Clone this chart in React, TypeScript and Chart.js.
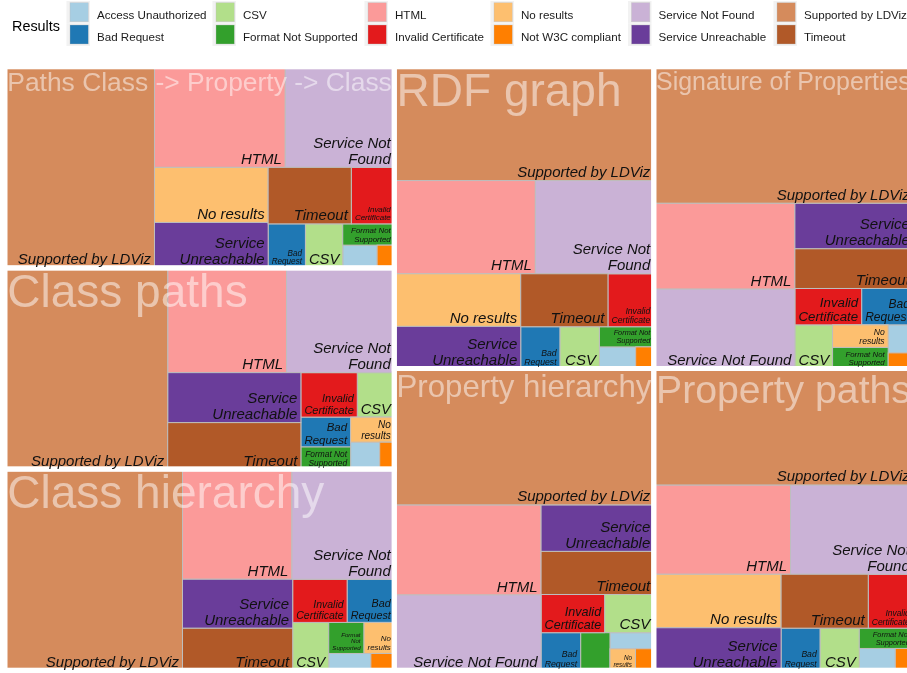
import React, { useEffect, useRef } from "react";
import { Chart, registerables } from "chart.js";

Chart.register(...registerables);

// ---------------- data ----------------
const RESULTS = [
  "Access Unauthorized",
  "Bad Request",
  "CSV",
  "Format Not Supported",
  "HTML",
  "Invalid Certificate",
  "No results",
  "Not W3C compliant",
  "Service Not Found",
  "Service Unreachable",
  "Supported by LDViz",
  "Timeout",
];

const RESULT_COLORS = [
  "#A6CEE3",
  "#1F78B4",
  "#B2DF8A",
  "#33A02C",
  "#FB9A99",
  "#E31A1C",
  "#FDBF6F",
  "#FF7F00",
  "#CAB2D6",
  "#6A3D9A",
  "#D58B5C",
  "#B15928",
];

const TASKS = [
  "Paths Class -> Property -> Class",
  "Class paths",
  "Class hierarchy",
  "RDF graph",
  "Signature of Properties",
  "Property hierarchy",
  "Property paths",
];

// share of endpoints per result (per mille), in RESULTS order (estimated from tile areas)
const PATHS_CLASS_PROPERTY_CLASS = [10, 21, 21, 14, 168, 31, 80, 5, 140, 66, 384, 60];
const CLASS_PATHS = [10, 19, 21, 14, 159, 32, 14, 5, 144, 85, 418, 79];
const CLASS_HIERARCHY = [9, 26, 22, 14, 154, 30, 12, 5, 144, 69, 456, 59];
const RDF_GRAPH = [10, 21, 21, 14, 168, 31, 85, 5, 141, 68, 377, 59];
const SIGNATURE_OF_PROPERTIES = [9, 24, 21, 15, 155, 31, 16, 5, 143, 69, 452, 60];
const PROPERTY_HIERARCHY = [9, 19, 24, 14, 169, 31, 7, 5, 141, 67, 452, 62];
const PROPERTY_PATHS = [10, 21, 21, 14, 156, 31, 87, 5, 140, 69, 386, 60];

const TASK_VALUES = [
  PATHS_CLASS_PROPERTY_CLASS,
  CLASS_PATHS,
  CLASS_HIERARCHY,
  RDF_GRAPH,
  SIGNATURE_OF_PROPERTIES,
  PROPERTY_HIERARCHY,
  PROPERTY_PATHS,
];

// ---------------- squarified layout (data space, unit square) ----------------
type Rect = { x: number; y: number; w: number; h: number };

function worst(areas: number[], side: number): number {
  const s = areas.reduce((a, b) => a + b, 0);
  const t = s / side;
  let m = 0;
  for (const a of areas) {
    const l = a / t;
    m = Math.max(m, t / l, l / t);
  }
  return m;
}

function squarify(values: number[], rect: Rect): Rect[] {
  const total = values.reduce((a, b) => a + b, 0);
  const scale = (rect.w * rect.h) / total;
  const order = values
    .map((v, i) => ({ v: v * scale, i }))
    .filter((o) => o.v > 0)
    .sort((a, b) => b.v - a.v);
  const out: Rect[] = new Array(values.length);
  let { x, y, w, h } = rect;
  let i = 0;
  while (i < order.length) {
    const side = Math.min(w, h);
    const row = [order[i].v];
    let best = worst(row, side);
    let j = i + 1;
    while (j < order.length) {
      const cand = worst([...row, order[j].v], side);
      if (cand > best) break;
      row.push(order[j].v);
      best = cand;
      j++;
    }
    const sum = row.reduce((a, b) => a + b, 0);
    if (w < h) {
      const th = sum / w;
      let cx = x;
      for (let k = i; k < j; k++) {
        const len = order[k].v / th;
        out[order[k].i] = { x: cx, y, w: len, h: th };
        cx += len;
      }
      y += th;
      h -= th;
    } else {
      const tw = sum / h;
      let cy = y;
      for (let k = i; k < j; k++) {
        const len = order[k].v / tw;
        out[order[k].i] = { x, y: cy, w: tw, h: len };
        cy += len;
      }
      x += tw;
      w -= tw;
    }
    i = j;
  }
  return out;
}

const GROUP_RECTS = squarify(
  TASK_VALUES.map((vals) => vals.reduce((a, b) => a + b, 0)),
  { x: 0, y: 0, w: 1, h: 1 }
);
const LAYOUT = TASKS.map((name, ti) => ({
  name,
  rect: GROUP_RECTS[ti],
  cells: squarify(TASK_VALUES[ti], GROUP_RECTS[ti]),
}));

// ---------------- drawing helpers ----------------
const FAMILY = '"Liberation Sans", Arial, Helvetica, sans-serif';
const LABEL_MAX = 15;
const LABEL_MIN = 5.5;
const PAD = 3.5;
const LINE = 1.08;
const ASC = 0.716;

function wrapCandidates(text: string): string[][] {
  const words = text.split(" ");
  const out: string[][] = [];
  const seen = new Set<string>();
  for (let w = text.length; w >= 1; w--) {
    const lines: string[] = [];
    let cur = "";
    for (const word of words) {
      if (!cur) cur = word;
      else if (cur.length + 1 + word.length <= w) cur += " " + word;
      else {
        lines.push(cur);
        cur = word;
      }
    }
    if (cur) lines.push(cur);
    const key = lines.join("\n");
    if (!seen.has(key)) {
      seen.add(key);
      out.push(lines);
    }
  }
  return out;
}

function fitLabel(ctx: CanvasRenderingContext2D, text: string, bw: number, bh: number) {
  const aw = bw - 2 * PAD;
  const ah = bh - 2 * PAD;
  if (aw <= 0 || ah <= 0) return null;
  ctx.font = `italic 100px ${FAMILY}`;
  const cands = wrapCandidates(text).map((lines) => {
    const wEm = Math.max(...lines.map((l) => ctx.measureText(l).width)) / 100;
    const hEm = (lines.length - 1) * LINE + ASC;
    return { lines, wEm, hEm };
  });
  for (const c of cands) {
    if (c.wEm * LABEL_MAX <= aw && c.hEm * LABEL_MAX <= ah) return { lines: c.lines, size: LABEL_MAX };
  }
  const boxAR = aw / ah;
  let best = cands[0];
  let bestD = Infinity;
  for (const c of cands) {
    const d = Math.abs(Math.log(c.wEm / c.hEm / boxAR));
    if (d < bestD) {
      bestD = d;
      best = c;
    }
  }
  const size = Math.min(LABEL_MAX, aw / best.wEm, ah / best.hEm);
  if (size < LABEL_MIN) return null;
  return { lines: best.lines, size };
}

const LEGEND_TEXT_X = [97, 243, 395, 521, 658.5, 804];

const treemapPlugin = {
  id: "treemapCells",
  afterDraw(chart: any) {
    const ctx: CanvasRenderingContext2D = chart.ctx;
    const xs = chart.scales.x;
    const ys = chart.scales.y;
    const toPx = (r: Rect) => {
      const a = xs.getPixelForValue(r.x);
      const b = xs.getPixelForValue(r.x + r.w);
      const c = ys.getPixelForValue(r.y);
      const d = ys.getPixelForValue(r.y + r.h);
      return { x0: Math.min(a, b), x1: Math.max(a, b), y0: Math.min(c, d), y1: Math.max(c, d) };
    };
    ctx.save();

    // tiles
    LAYOUT.forEach((g) => {
      g.cells.forEach((cell, ri) => {
        if (!cell) return;
        const p = toPx(cell);
        ctx.fillStyle = RESULT_COLORS[ri];
        ctx.fillRect(p.x0, p.y0, p.x1 - p.x0, p.y1 - p.y0);
        ctx.strokeStyle = "#BEBEBE";
        ctx.lineWidth = 1;
        ctx.strokeRect(p.x0, p.y0, p.x1 - p.x0, p.y1 - p.y0);
      });
    });

    // group borders
    LAYOUT.forEach((g) => {
      const p = toPx(g.rect);
      ctx.strokeStyle = "#FFFFFF";
      ctx.lineWidth = 5;
      ctx.strokeRect(p.x0, p.y0, p.x1 - p.x0, p.y1 - p.y0);
    });

    // group labels
    LAYOUT.forEach((g) => {
      const p = toPx(g.rect);
      ctx.font = `100px ${FAMILY}`;
      const wEm = ctx.measureText(g.name).width / 100;
      const size = Math.min(46, (p.x1 - p.x0 - 4.6) / wEm);
      ctx.font = `${size}px ${FAMILY}`;
      ctx.fillStyle = "rgba(255,255,255,0.5)";
      ctx.textAlign = "left";
      ctx.textBaseline = "alphabetic";
      ctx.fillText(g.name, p.x0 + 2.3, p.y0 + 5 + 0.74 * size);
    });

    // tile labels
    LAYOUT.forEach((g) => {
      g.cells.forEach((cell, ri) => {
        if (!cell) return;
        const p = toPx(cell);
        const fit = fitLabel(ctx, RESULTS[ri], p.x1 - p.x0, p.y1 - p.y0);
        if (!fit) return;
        ctx.font = `italic ${fit.size}px ${FAMILY}`;
        ctx.fillStyle = "#111111";
        ctx.textAlign = "right";
        ctx.textBaseline = "alphabetic";
        const n = fit.lines.length;
        fit.lines.forEach((line, li) => {
          const by = p.y1 - PAD - (n - 1 - li) * LINE * fit.size;
          ctx.fillText(line, p.x1 - PAD, by);
        });
      });
    });

    // legend
    ctx.textAlign = "left";
    ctx.textBaseline = "alphabetic";
    ctx.fillStyle = "#000000";
    ctx.font = `14.4px ${FAMILY}`;
    ctx.fillText("Results", 12, 31);
    RESULTS.forEach((label, i) => {
      const col = Math.floor(i / 2);
      const row = i % 2;
      const tx = LEGEND_TEXT_X[col];
      ctx.fillStyle = "#F2F2F2";
      ctx.fillRect(tx - 30.5, 1 + row * 22.5, 23.5, 22.5);
      ctx.fillStyle = RESULT_COLORS[i];
      ctx.fillRect(tx - 27, 2.7 + row * 22.3, 18.3, 19);
      ctx.strokeStyle = "rgba(190,190,190,0.6)";
      ctx.lineWidth = 0.6;
      ctx.strokeRect(tx - 27, 2.7 + row * 22.3, 18.3, 19);
      ctx.fillStyle = "#1A1A1A";
      ctx.font = `11.6px ${FAMILY}`;
      ctx.fillText(label, tx, 18.5 + row * 22);
    });

    ctx.restore();
  },
};

export default function App() {
  const ref = useRef<HTMLCanvasElement | null>(null);
  useEffect(() => {
    if (!ref.current) return;
    const chart = new Chart(ref.current, {
      type: "scatter",
      data: {
        datasets: RESULTS.map((label, ri) => ({
          label,
          data: LAYOUT.map((g) => {
            const c = g.cells[ri];
            return { x: c.x + c.w / 2, y: c.y + c.h / 2 };
          }),
          backgroundColor: RESULT_COLORS[ri],
          pointRadius: 0,
          pointHoverRadius: 0,
        })),
      },
      options: {
        responsive: false,
        animation: false,
        devicePixelRatio: 1,
        events: [],
        layout: { padding: { left: 5, right: 6.7, top: 66.8, bottom: 2.8 } },
        scales: {
          x: { type: "linear", min: 0, max: 1, display: false },
          y: { type: "linear", min: 0, max: 1, reverse: true, display: false },
        },
        plugins: { legend: { display: false }, tooltip: { enabled: false } },
      },
      plugins: [treemapPlugin],
    } as any);
    return () => chart.destroy();
  }, []);
  return (
    <div
      style={{
        position: "fixed",
        left: 0,
        top: 0,
        width: 907,
        height: 673,
        overflow: "hidden",
        background: "#ffffff",
      }}
    >
      <canvas ref={ref} width={920} height={673} style={{ display: "block", width: 920, height: 673 }} />
    </div>
  );
}
